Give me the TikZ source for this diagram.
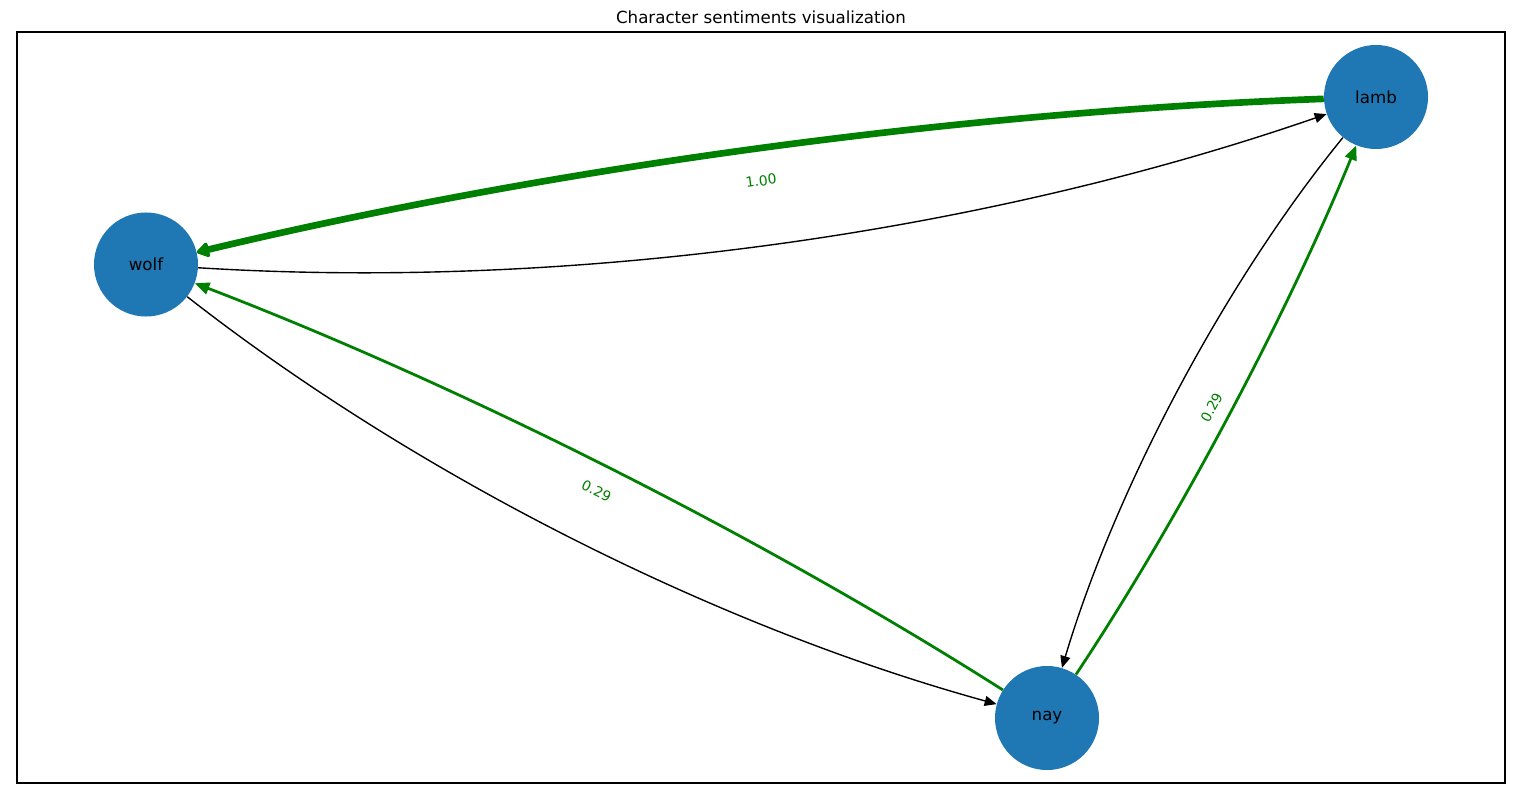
\documentclass[tikz,border=0pt]{standalone}
\usepackage{fontspec}
\setmainfont{DejaVu Sans}
\usetikzlibrary{arrows.meta}
\definecolor{nodeblue}{HTML}{1F77B4}
\definecolor{mplgreen}{HTML}{008000}
\tikzset{
  charnode/.style={circle, fill=nodeblue, inner sep=0pt, minimum size=74.9pt, font=\fontsize{12}{14}\selectfont, text=black},
  blackedge/.style={line width=1pt, black, -{Triangle[length=8.6pt, width=7.2pt]}},
  greenedge/.style={line width=2pt, mplgreen, -{Triangle[length=10.5pt, width=8.6pt]}},
  thickedge/.style={line width=4.8pt, mplgreen, -{Triangle[round, length=10pt, width=12pt]}},
  elabel/.style={font=\fontsize{10}{12}\selectfont, text=mplgreen, inner sep=0pt},
  frame/.style={draw=black, line width=0.8pt},
}
\begin{document}
\begin{tikzpicture}[x=0.72pt, y=-0.72pt]
\useasboundingbox (0,0) rectangle (1527,806);
\node[frame, rectangle, minimum width=1488*0.72pt, minimum height=751*0.72pt, inner sep=0pt] (box) at (761,407.5) {};
\node[font=\fontsize{12}{14}\selectfont] (title) at (761,17) {Character sentiments visualization};
\node[charnode] (wolf) at (146,264.5) {wolf};
\node[charnode] (lamb) at (1376,97) {lamb};
\node[charnode] (nay) at (1047,718) {nay};
% lamb -> wolf
\draw[thickedge] (lamb) .. controls (960.4,111.8) and (550.4,167.7) .. (wolf);
% wolf -> lamb
\draw[blackedge] (wolf) .. controls (567.2,290.7) and (977.2,234.8) .. (lamb);
% nay -> wolf
\draw[greenedge] (nay) .. controls (761.8,536.8) and (461.5,385.6) .. (wolf);
% wolf -> nay
\draw[blackedge] (wolf) .. controls (416.1,475.7) and (716.4,626.9) .. (nay);
% nay -> lamb
\draw[greenedge] (nay) .. controls (1177.4,522.0) and (1287.0,315.0) .. (lamb);
% lamb -> nay
\draw[blackedge] (lamb) .. controls (1224.9,282.1) and (1115.3,489.1) .. (nay);
\node[elabel, rotate=7.76] (l1) at (761,180.75) {1.00};
\node[elabel, rotate=-26.7] (l2) at (596.5,491.25) {0.29};
\node[elabel, rotate=62.1] (l3) at (1211.5,407.5) {0.29};
\end{tikzpicture}
\end{document}
